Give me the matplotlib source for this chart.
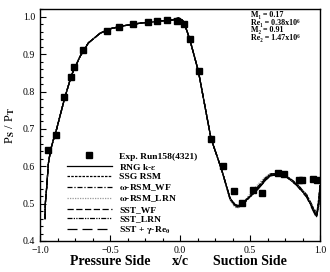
import matplotlib
matplotlib.use("Agg")
import matplotlib.pyplot as plt
from matplotlib.ticker import AutoMinorLocator, MultipleLocator

plt.rcParams["font.family"] = ["Liberation Serif", "DejaVu Serif"]
plt.rcParams["font.weight"] = "bold"
plt.rcParams["mathtext.fontset"] = "stix"
plt.rcParams["mathtext.default"] = "bf"

# Experimental data (Run158)
x_exp = [-0.945, -0.888, -0.826, -0.779, -0.757, -0.695, -0.524, -0.436, -0.338, -0.231,
         -0.166, -0.095, -0.024, 0.029, 0.071, 0.136, 0.221, 0.305, 0.386, 0.445,
         0.524, 0.588, 0.702, 0.745, 0.85, 0.87, 0.948, 0.98]
y_exp = [0.643, 0.684, 0.786, 0.838, 0.865, 0.910, 0.961, 0.974, 0.981, 0.987,
         0.988, 0.992, 0.990, 0.980, 0.940, 0.856, 0.674, 0.601, 0.534, 0.501,
         0.536, 0.529, 0.581, 0.579, 0.563, 0.562, 0.565, 0.562]

# Pressure side (all models nearly coincide)
x_ps = [-0.964, -0.962, -0.952, -0.940, -0.924, -0.905, -0.881, -0.850, -0.821, -0.774,
        -0.714, -0.655, -0.571, -0.500, -0.405, -0.286, -0.143, -0.050, -0.012]
y_ps = [0.459, 0.500, 0.545, 0.608, 0.644, 0.670, 0.700, 0.745, 0.786, 0.845,
        0.894, 0.930, 0.956, 0.968, 0.976, 0.983, 0.989, 0.992, 0.997]

# Suction side
x_ss = [-0.012, 0.02, 0.05, 0.071, 0.131, 0.221, 0.298, 0.357, 0.393, 0.416, 0.446, 0.476,
        0.52, 0.548, 0.607, 0.643, 0.69, 0.762, 0.833, 0.905, 0.952, 0.976, 0.993, 1.0]
ss_front = [0.997, 0.990, 0.962, 0.938, 0.855, 0.675, 0.590]
y_rng = ss_front + [0.515, 0.497, 0.494, 0.499, 0.510, 0.526, 0.536, 0.561, 0.575, 0.577,
                    0.571, 0.550, 0.519, 0.483, 0.465, 0.510, 0.546]
y_ssg = ss_front + [0.513, 0.494, 0.492, 0.498, 0.510, 0.524, 0.538, 0.565, 0.578, 0.579,
                    0.572, 0.551, 0.520, 0.486, 0.470, 0.520, 0.550]
y_wrsm_wf = ss_front + [0.512, 0.492, 0.490, 0.497, 0.512, 0.530, 0.542, 0.568, 0.580, 0.580,
                        0.573, 0.553, 0.524, 0.490, 0.474, 0.500, 0.535]
y_wrsm_lrn = ss_front + [0.510, 0.490, 0.489, 0.497, 0.515, 0.535, 0.548, 0.571, 0.580, 0.579,
                         0.572, 0.552, 0.522, 0.488, 0.470, 0.490, 0.530]
y_sst_wf = ss_front + [0.514, 0.496, 0.493, 0.499, 0.511, 0.527, 0.537, 0.562, 0.576, 0.578,
                       0.572, 0.551, 0.520, 0.484, 0.466, 0.515, 0.548]
y_sst_lrn = ss_front + [0.515, 0.495, 0.491, 0.496, 0.508, 0.528, 0.540, 0.566, 0.579, 0.581,
                        0.574, 0.554, 0.523, 0.487, 0.468, 0.500, 0.540]
y_sst_gam = ss_front + [0.516, 0.498, 0.495, 0.500, 0.512, 0.526, 0.535, 0.560, 0.574, 0.577,
                        0.571, 0.549, 0.517, 0.480, 0.462, 0.505, 0.550]

models = [
    (r"RNG k-$\varepsilon$", y_rng, "black", "-"),
    ("SSG RSM", y_ssg, "black", (0, (2, 1))),
    (r"$\omega$-RSM_WF", y_wrsm_wf, "black", (0, (4, 1.5, 1, 1.5))),
    (r"$\omega$-RSM_LRN", y_wrsm_lrn, "#9a9a9a", (0, (1, 1))),
    ("SST_WF", y_sst_wf, "black", (0, (5, 2))),
    ("SST_LRN", y_sst_lrn, "black", (0, (4, 1, 1, 1, 1, 1))),
    (r"SST + $\gamma$-Re$_\theta$", y_sst_gam, "black", (0, (8, 4))),
]

info_lines = ["M\u2081 = 0.17", "Re\u2081 = 0.38x10\u2076",
              "M\u2082 = 0.91", "Re\u2082 = 1.47x10\u2076"]

fig = plt.figure(figsize=(3.3, 2.72), dpi=100)
ax = fig.add_axes([40 / 330, 1 - 241 / 272, 280 / 330, 232 / 272])

handles = []
for label, y_s, col, ls in models:
    ax.plot(x_ps, y_ps, color=col, linestyle=ls, linewidth=0.9)
    h, = ax.plot(x_ss, y_s, color=col, linestyle=ls, linewidth=0.9, label=label)
    handles.append(h)

h_exp, = ax.plot(x_exp, y_exp, "s", color="black", markersize=4.5, linestyle="none",
                 label="Exp. Run158(4321)", zorder=5)

ax.set_xlim(-1.0, 1.0)
ax.set_ylim(0.4, 1.021)
ax.xaxis.set_major_locator(MultipleLocator(0.5))
ax.yaxis.set_major_locator(MultipleLocator(0.1))
ax.xaxis.set_minor_locator(AutoMinorLocator(4))
ax.yaxis.set_minor_locator(AutoMinorLocator(5))
ax.tick_params(which="both", direction="in", labelsize=7, width=0.8)
ax.tick_params(which="major", length=4)
ax.tick_params(which="minor", length=2)
for lab in ax.get_xticklabels() + ax.get_yticklabels():
    lab.set_fontweight("normal")
for s in ax.spines.values():
    s.set_linewidth(1.0)

ax.set_ylabel(r"P$_S$ / P$_T$", fontsize=9, labelpad=4)
for xv, txt in [(-0.5, "Pressure Side"), (0.0, "x/c"), (0.5, "Suction Side")]:
    ax.text(xv, -0.06, txt, transform=ax.get_xaxis_transform(), ha="center", va="top",
            fontsize=10, fontweight="bold")

leg = ax.legend([h_exp] + handles, [h_exp.get_label()] + [h.get_label() for h in handles],
                loc="upper left", bbox_to_anchor=(0.095, 0.383), frameon=False, fontsize=6.8,
                handlelength=4.8, labelspacing=0.1, borderaxespad=0, borderpad=0,
                handletextpad=0.8)

ax.text(0.755, 0.99, "\n".join(info_lines), transform=ax.transAxes, fontsize=5.8,
        fontweight="bold", va="top", ha="left", linespacing=0.9)

fig.savefig("out.png", dpi=100)
